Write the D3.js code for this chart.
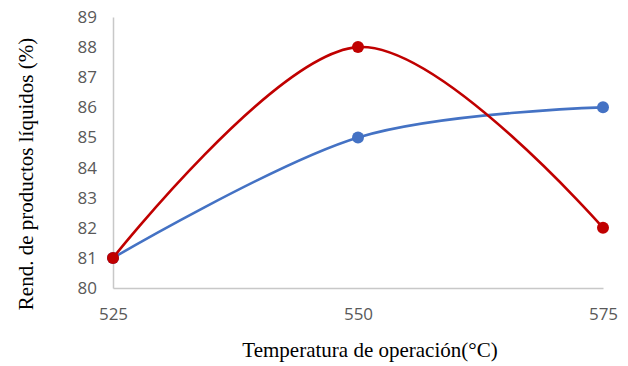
<!DOCTYPE html>
<html>
<head>
<meta charset="utf-8">
<script src="https://cdn.jsdelivr.net/npm/d3@7"></script>
<style>
  body { margin: 0; background: #fff; }
</style>
</head>
<body>
<div id="chart"></div>
<script>
const temps = [525, 550, 575];
const serieBlue = [81, 85, 86];
const serieRed = [81, 88, 82];
const yTicks = [80, 81, 82, 83, 84, 85, 86, 87, 88, 89];

const width = 628;
const height = 366;
const margin = { top: 17, right: 25, bottom: 78, left: 113 };
const w = width - margin.left - margin.right;
const h = height - margin.top - margin.bottom;

const svg = d3.select('#chart').append('svg')
  .attr('width', width)
  .attr('height', height);

const plot = svg.append('g')
  .attr('transform', `translate(${margin.left},${margin.top})`);

const x = d3.scalePoint().domain(temps).range([0, w]);
const y = d3.scaleLinear().domain([80, 89]).range([h, 0]);

// axes
const xAxis = plot.append('g')
  .attr('transform', `translate(0,${h})`)
  .call(d3.axisBottom(x).tickSize(0).tickPadding(20));
xAxis.select('path').attr('stroke', '#c8c8c8').attr('stroke-width', 1.5);
xAxis.selectAll('text')
  .attr('font-family', 'Open Sans, sans-serif')
  .attr('font-size', 17)
  .attr('fill', '#595959');

const yAxis = plot.append('g')
  .call(d3.axisLeft(y).tickValues(yTicks).tickSize(0).tickPadding(16));
yAxis.select('path').attr('stroke', '#c8c8c8').attr('stroke-width', 1.5);
yAxis.selectAll('text')
  .attr('font-family', 'Open Sans, sans-serif')
  .attr('font-size', 17)
  .attr('fill', '#595959');

// lines
const line = d3.line()
  .x((d, i) => x(temps[i]))
  .y(d => y(d))
  .curve(d3.curveCardinal.tension(0));

const series = [
  { values: serieBlue, color: '#4472c4' },
  { values: serieRed, color: '#c00000' }
];

series.forEach(s => {
  plot.append('path')
    .datum(s.values)
    .attr('d', line)
    .attr('fill', 'none')
    .attr('stroke', s.color)
    .attr('stroke-width', 2.6);
  plot.append('g')
    .selectAll('circle')
    .data(s.values)
    .enter().append('circle')
      .attr('cx', (d, i) => x(temps[i]))
      .attr('cy', d => y(d))
      .attr('r', 6)
      .attr('fill', s.color);
});

// titles
svg.append('text')
  .attr('x', 370)
  .attr('y', 357)
  .attr('text-anchor', 'middle')
  .attr('font-family', 'Liberation Serif, Times New Roman, serif')
  .attr('font-size', 21)
  .attr('fill', '#000')
  .text('Temperatura de operación(°C)');

svg.append('text')
  .attr('transform', `translate(33,174) rotate(-90)`)
  .attr('text-anchor', 'middle')
  .attr('font-family', 'Liberation Serif, Times New Roman, serif')
  .attr('font-size', 21)
  .attr('fill', '#000')
  .text('Rend. de productos líquidos (%)');
</script>
</body>
</html>
